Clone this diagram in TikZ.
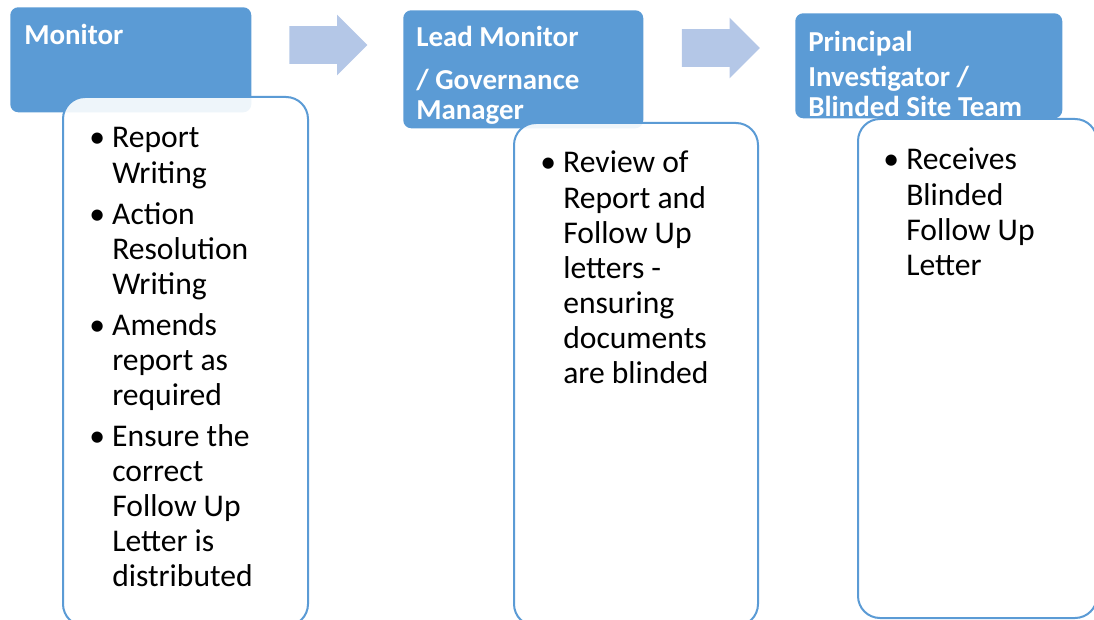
\documentclass[tikz,border=0pt]{standalone}
\usepackage{fontspec}
\setmainfont{Carlito}
\usetikzlibrary{shapes.arrows}
\definecolor{stageblue}{RGB}{91,155,213}
\definecolor{flowblue}{RGB}{180,199,231}
\tikzset{
    x=0.75pt,
    y=-0.75pt,
    header/.style = {
        shape=rectangle,
        fill=stageblue,
        rounded corners=6pt,
        anchor=north west
    },
    headtext/.style = {
        anchor=base west,
        inner sep=0pt,
        text=white,
        font=\bfseries\fontsize{21.7}{24}\selectfont
    },
    detail/.style = {
        shape=rectangle,
        draw=stageblue,
        fill=white,
        fill opacity=0.9,
        rounded corners=16.5pt,
        line width=1.5pt,
        anchor=north west
    },
    detailtext/.style = {
        anchor=base west,
        inner sep=0pt,
        font=\fontsize{23.7}{26.3}\selectfont
    },
    flow/.style = {
        shape=single arrow,
        fill=flowblue,
        inner xsep=0pt,
        inner ysep=13.875pt,
        single arrow head extend=8.625pt,
        minimum height=58.5pt
    }
}
\newcommand{\bul}{\makebox[17.25pt][l]{\textbullet}}

\begin{document}
\begin{tikzpicture}
    \useasboundingbox (0,0) rectangle (1094,620);

    \node[header, minimum width=180.75pt, minimum height=78.75pt] (monitor) at (10,7) {};
    \node[headtext] (monitor-title) at (24,45) {\begin{tabular}[t]{@{}l@{}}Monitor\end{tabular}};
    \node[detail, minimum width=183.75pt, minimum height=396.75pt] (monitor-tasks) at (62,96) {};
    \node[detailtext] (monitor-list) at (89,148) {\begin{tabular}[t]{@{}l@{}l@{}}
        \bul & Report\\ & Writing\\[4.5pt]
        \bul & Action\\ & Resolution\\ & Writing\\[4.5pt]
        \bul & Amends\\ & report as\\ & required\\[4.5pt]
        \bul & Ensure the\\ & correct\\ & Follow Up\\ & Letter is\\ & distributed
    \end{tabular}};

    \node[header, minimum width=180pt, minimum height=88.5pt] (lead) at (403,10) {};
    \node[headtext] (lead-title) at (416,47) {\begin{tabular}[t]{@{}l@{}}Lead Monitor\\[8.25pt] / Governance\\[-1.5pt] Manager\end{tabular}};
    \node[detail, minimum width=183pt, minimum height=377.25pt] (lead-tasks) at (513,122) {};
    \node[detailtext] (lead-list) at (540,173) {\begin{tabular}[t]{@{}l@{}l@{}}
        \bul & Review of\\ & Report and\\ & Follow Up\\ & letters -\\ & ensuring\\ & documents\\ & are blinded
    \end{tabular}};

    \node[header, minimum width=200.25pt, minimum height=78.75pt] (site) at (795,13) {};
    \node[headtext] (site-title) at (808,52) {\begin{tabular}[t]{@{}l@{}}Principal\\[2.25pt] Investigator /\\[-1.5pt] Blinded Site Team\end{tabular}};
    \node[detail, minimum width=179.25pt, minimum height=374.25pt] (site-tasks) at (857,118) {};
    \node[detailtext] (site-list) at (883,170) {\begin{tabular}[t]{@{}l@{}l@{}}
        \bul & Receives\\ & Blinded\\ & Follow Up\\ & Letter
    \end{tabular}};

    \node[flow] (flow-lead) at (319,45) {};
    \node[flow] (flow-site) at (711.5,48) {};
\end{tikzpicture}
\end{document}
